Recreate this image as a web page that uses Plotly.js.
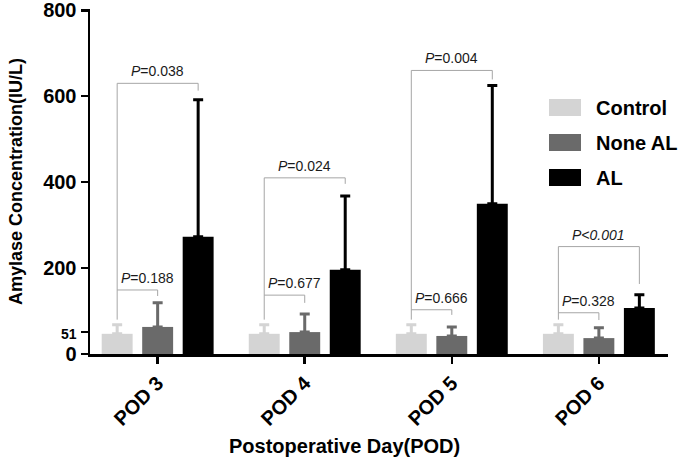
<!DOCTYPE html>
<html>
<head>
<meta charset="utf-8">
<script src="https://cdn.plot.ly/plotly-3.0.1.min.js"></script>
<style>html,body{margin:0;padding:0;background:#fff}#chart{width:685px;height:461px}</style>
</head>
<body>
<div id="chart"></div>
<script>
// ---- data ----
const categories = ["POD 3", "POD 4", "POD 5", "POD 6"];
const seriesNames = ["Control", "None AL", "AL"];
const controlMean = [47, 47, 47, 47];
const controlErr = [21, 21, 21, 21];
const noneALMean = [63, 51, 42, 37];
const noneALErr = [56, 42, 21, 24];
const alMean = [273, 196, 350, 107];
const alErr = [319, 172, 275, 31];
const yTickVals = [0, 51, 200, 400, 600, 800];
const yTickText = ["0", "<span style=\"font-size:14px\">51</span>", "200", "400", "600", "800"];
const pBig = ["<i>P</i>=0.038", "<i>P</i>=0.024", "<i>P</i>=0.004", "<i>P&lt;0.001</i>"];
const pSmall = ["<i>P</i>=0.188", "<i>P</i>=0.677", "<i>P</i>=0.666", "<i>P</i>=0.328"];

// ---- bracket levels (annotation geometry) ----
const bigLevel = [630, 410, 660, 250];
const bigLegEnd = [613, 396, 639, 163];
const smallLevel = [149, 137, 103, 96];
const smallLegEnd = [135, 119, 91, 79];
const leftLegEnd = 80;

const colors = ["#d4d4d4", "#6a6a6a", "#000000"];
const means = [controlMean, noneALMean, alMean];
const errs = [controlErr, noneALErr, alErr];
const FONT = "Liberation Sans, Arial, sans-serif";

const bargap = 0.174;
const slot = (1 - bargap) / 3;

const traces = seriesNames.map((name, k) => ({
  type: "bar",
  name: name,
  x: categories,
  y: means[k],
  marker: {color: colors[k], line: {width: 0}},
  error_y: {
    type: "data", symmetric: false,
    array: errs[k], arrayminus: errs[k].map(() => 0),
    color: colors[k], thickness: 3, width: 5
  },
  showlegend: false,
  hoverinfo: "skip"
}));

const shapes = [];
const annotations = [];
const lineStyle = {color: "#a6a6a6", width: 1};
categories.forEach((c, i) => {
  const xc = i - slot, xn = i, xa = i + slot;
  shapes.push({type: "path", xref: "x", yref: "y",
    path: `M ${xc} ${leftLegEnd} L ${xc} ${bigLevel[i]} L ${xa} ${bigLevel[i]} L ${xa} ${bigLegEnd[i]}`,
    line: lineStyle});
  shapes.push({type: "path", xref: "x", yref: "y",
    path: `M ${xc} ${smallLevel[i]} L ${xn} ${smallLevel[i]} L ${xn} ${smallLegEnd[i]}`,
    line: lineStyle});
  annotations.push({x: (xc + xa) / 2, y: bigLevel[i], xref: "x", yref: "y",
    text: pBig[i], showarrow: false, yanchor: "bottom", yshift: 2,
    font: {family: FONT, size: 14, color: "#1a1a1a"}});
  annotations.push({x: (xc + xn) / 2, y: smallLevel[i], xref: "x", yref: "y",
    text: pSmall[i], showarrow: false, yanchor: "bottom", yshift: 2, xshift: 10,
    font: {family: FONT, size: 14, color: "#1a1a1a"}});
});

// custom legend (large swatches)
const plotL = 90, plotR = 668, plotT = 9, plotB = 354;
const px2x = p => (p - plotL) / (plotR - plotL);
const px2y = p => (plotB - p) / (plotB - plotT);
seriesNames.forEach((name, k) => {
  const top = 99 + k * 35;
  shapes.push({type: "rect", xref: "paper", yref: "paper",
    x0: px2x(549), x1: px2x(581), y0: px2y(top + 17), y1: px2y(top),
    fillcolor: colors[k], line: {width: 0}});
  annotations.push({xref: "paper", yref: "paper", x: px2x(594), y: px2y(top + 8.5),
    xanchor: "left", yanchor: "middle", showarrow: false, text: name,
    font: {family: FONT, size: 20, color: "#000", weight: 700}});
});

// x-axis title
annotations.push({xref: "paper", yref: "paper", x: px2x(344), y: px2y(446),
  xanchor: "center", yanchor: "middle", showarrow: false,
  text: "Postoperative Day(POD)",
  font: {family: FONT, size: 20, color: "#000", weight: 700}});

const layout = {
  width: 685, height: 461,
  margin: {l: plotL, r: 685 - plotR, t: plotT, b: 461 - plotB},
  paper_bgcolor: "#fff", plot_bgcolor: "#fff",
  barmode: "group", bargap: bargap, bargroupgap: 0.236,
  showlegend: false,
  font: {family: FONT, color: "#000"},
  xaxis: {
    type: "category", range: [-0.46, 3.47],
    showline: true, linecolor: "#000", linewidth: 2.5,
    ticks: "outside", ticklen: 7, tickwidth: 2.5, tickcolor: "#000",
    tickangle: -45, showgrid: false, zeroline: false,
    ticklabeloverflow: "allow",
    tickfont: {family: FONT, size: 20, color: "#000", weight: 700}
  },
  yaxis: {
    range: [0, 803], showline: true, linecolor: "#000", linewidth: 2.5,
    ticks: "outside", ticklen: 7, tickwidth: 2.5, tickcolor: "#000",
    tickmode: "array", tickvals: yTickVals, ticktext: yTickText,
    showgrid: false, zeroline: false,
    ticklabeloverflow: "allow",
    tickfont: {family: FONT, size: 20, color: "#000", weight: 700},
    title: {text: "Amylase Concentration(IU/L)", standoff: 16,
      font: {family: FONT, size: 18, color: "#000", weight: 700}}
  },
  shapes: shapes,
  annotations: annotations
};

Plotly.newPlot("chart", traces, layout, {staticPlot: true, displayModeBar: false});
</script>
</body>
</html>
